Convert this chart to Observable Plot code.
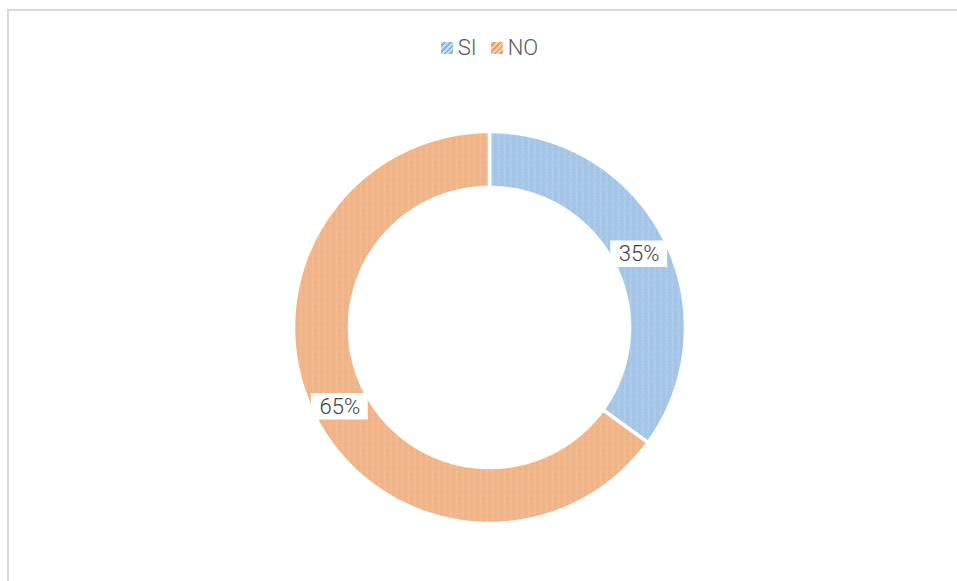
<!DOCTYPE html>
<html>
<head>
<meta charset="utf-8">
<script src="https://cdn.jsdelivr.net/npm/d3@7"></script>
<script src="https://cdn.jsdelivr.net/npm/@observablehq/plot@0.6"></script>
<style>
  html, body { margin: 0; padding: 0; background: #fff; }
  #wrap { position: relative; width: 957px; height: 581px; overflow: hidden; }
  #border { position: absolute; left: 7px; top: 9px; width: 1000px; height: 700px; border-left: 2px solid #d9d9d9; border-top: 2px solid #d9d9d9; box-sizing: border-box; }
  #legend { position: absolute; top: 35px; left: 0; width: 957px; display: flex; justify-content: center; gap: 14px; font-family: "Roboto", sans-serif; font-weight: 300; font-size: 22px; color: #595959; padding-left: 22px; box-sizing: border-box; }
  #legend span.item { display: flex; align-items: center; gap: 5px; }
  #legend span.sw { display: inline-block; width: 12px; height: 12px; }
  #chart { position: absolute; left: 0; top: 0; }
</style>
</head>
<body>
<div id="wrap">
  <div id="border"></div>
  <div id="chart"></div>
  <div id="legend"></div>
</div>
<script>
const categories = ["SI", "NO"];
const values = [35, 65];
const labels = ["35%", "65%"];

const baseColors = ["#c6dcf3", "#f7cdab"];
const streakColors = ["#8ab3df", "#eba06b"];
const patternIds = ["patSI", "patNO"];

const innerRatio = 140 / 196;
const total = d3.sum(values);

const ringPts = [];
const labelPts = [];
let acc = 0;
categories.forEach((c, i) => {
  const a0 = acc / total * 2 * Math.PI;
  acc += values[i];
  const a1 = acc / total * 2 * Math.PI;
  const n = 120;
  const pts = [];
  for (let k = 0; k <= n; k++) {
    const a = a0 + (a1 - a0) * k / n;
    pts.push({cat: c, x: Math.sin(a), y: Math.cos(a)});
  }
  for (let k = n; k >= 0; k--) {
    const a = a0 + (a1 - a0) * k / n;
    pts.push({cat: c, x: innerRatio * Math.sin(a), y: innerRatio * Math.cos(a)});
  }
  pts.push(pts[0]);
  ringPts.push(...pts);
  const am = (a0 + a1) / 2;
  const rm = (1 + innerRatio) / 2;
  labelPts.push({cat: c, label: labels[i], x: rm * Math.sin(am), y: rm * Math.cos(am)});
});

const cx = 489, cy = 327, R = 196;
const bw = 0.29, bh = 0.135;

const plot = Plot.plot({
  width: 957,
  height: 581,
  margin: 0,
  x: {domain: [-1, 1], range: [cx - R, cx + R], axis: null},
  y: {domain: [-1, 1], range: [cy + R, cy - R], axis: null},
  color: {domain: categories, range: patternIds.map(id => `url(#${id})`)},
  style: {background: "transparent", overflow: "visible"},
  marks: [
    Plot.line(ringPts, {x: "x", y: "y", z: "cat", fill: "cat", stroke: "white", strokeWidth: 3.5, strokeLinejoin: "miter", curve: "linear"}),
    Plot.rect(labelPts, {x1: d => d.x - bw / 2, x2: d => d.x + bw / 2, y1: d => d.y - bh / 2, y2: d => d.y + bh / 2, fill: "white", dy: 3}),
    Plot.text(labelPts, {x: "x", y: "y", text: "label", fontSize: 22, fontWeight: 300, fill: "#404040", fontFamily: "Roboto, sans-serif", dy: 3})
  ]
});

const defs = d3.select(plot).insert("defs", ":first-child");
patternIds.forEach((id, i) => {
  const p = defs.append("pattern").attr("id", id).attr("patternUnits", "userSpaceOnUse").attr("width", 6).attr("height", 6);
  p.append("rect").attr("width", 6).attr("height", 6).attr("fill", baseColors[i]);
  p.append("path").attr("d", "M0,6 L3,3 M3,6 L6,3 M1,2 L3,0 M4,2 L6,0").attr("stroke", streakColors[i]).attr("stroke-width", 1.2).attr("stroke-linecap", "round");
});

document.getElementById("chart").appendChild(plot);

const legend = d3.select("#legend");
categories.forEach((c, i) => {
  const it = legend.append("span").attr("class", "item");
  it.append("span").attr("class", "sw").style("background", `repeating-linear-gradient(135deg, ${baseColors[i]} 0 2px, ${streakColors[i]} 2px 4px)`);
  it.append("span").text(c);
});
</script>
</body>
</html>
